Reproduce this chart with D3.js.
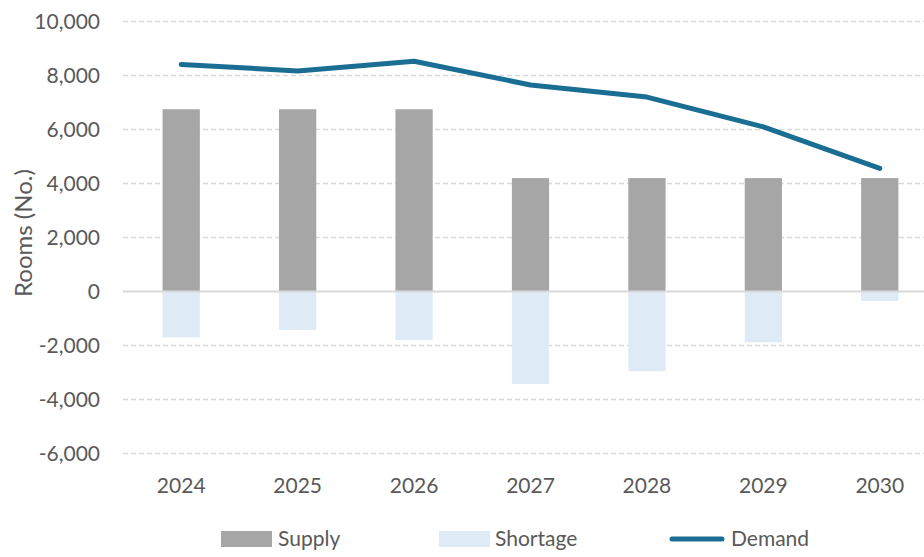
<!DOCTYPE html>
<html>
<head>
<meta charset="utf-8">
<script src="https://cdn.jsdelivr.net/npm/d3@7"></script>
<style>
  body { margin: 0; background: #fff; }
  svg { display: block; font-family: Lato, "Open Sans", sans-serif; }
</style>
</head>
<body>
<div id="chart"></div>
<script>
const years = ['2024', '2025', '2026', '2027', '2028', '2029', '2030'];
const supply = [6750, 6750, 6750, 4200, 4200, 4200, 4200];
const shortage = [-1700, -1420, -1800, -3430, -2950, -1880, -350];
const demand = [8410, 8170, 8530, 7650, 7200, 6100, 4560];
const yTicks = [-6000, -4000, -2000, 0, 2000, 4000, 6000, 8000, 10000];

const width = 924, height = 557;
const textColor = '#595959';

const svg = d3.select('#chart').append('svg')
  .attr('width', width)
  .attr('height', height);

const x = d3.scaleBand()
  .domain(years)
  .range([123, 938])
  .paddingInner(0.68)
  .paddingOuter(0.34);

const y = d3.scaleLinear().domain([-6000, 10000]).range([453.5, 21.5]);

// gridlines
svg.append('g')
  .selectAll('line')
  .data(yTicks.filter(d => d !== 0))
  .enter()
  .append('line')
  .attr('x1', 123)
  .attr('x2', width)
  .attr('y1', d => y(d))
  .attr('y2', d => y(d))
  .attr('stroke', '#d9d9d9')
  .attr('stroke-width', 1.3)
  .attr('stroke-dasharray', '5,3');

// y axis labels (hyphen minus like Excel)
const fmt = d3.format(',');
const yAxis = svg.append('g')
  .attr('transform', 'translate(100,0)')
  .call(d3.axisLeft(y).tickValues(yTicks).tickSize(0).tickPadding(0)
    .tickFormat(d => fmt(d).replace('\u2212', '-')));
yAxis.select('.domain').remove();
yAxis.selectAll('text')
  .attr('fill', textColor)
  .style('font-size', '21px')
  .style('font-family', 'Lato, sans-serif');

// bars
const bw = x.bandwidth();
svg.append('g')
  .selectAll('rect')
  .data(years)
  .enter()
  .append('rect')
  .attr('x', (d, i) => x(d))
  .attr('y', (d, i) => y(supply[i]))
  .attr('width', bw)
  .attr('height', (d, i) => y(0) - y(supply[i]))
  .attr('fill', '#a6a6a6');

svg.append('g')
  .selectAll('rect')
  .data(years)
  .enter()
  .append('rect')
  .attr('x', (d, i) => x(d))
  .attr('y', y(0))
  .attr('width', bw)
  .attr('height', (d, i) => y(shortage[i]) - y(0))
  .attr('fill', '#deeaf6');

// zero line
svg.append('line')
  .attr('x1', 123)
  .attr('x2', width)
  .attr('y1', y(0))
  .attr('y2', y(0))
  .attr('stroke', '#d9d9d9')
  .attr('stroke-width', 2);

// demand line
const line = d3.line()
  .x((d, i) => x(years[i]) + bw / 2)
  .y(d => y(d));

svg.append('path')
  .datum(demand)
  .attr('fill', 'none')
  .attr('stroke', '#1a6e93')
  .attr('stroke-width', 5)
  .attr('stroke-linecap', 'round')
  .attr('stroke-linejoin', 'round')
  .attr('d', line);

// x axis labels
const xAxis = svg.append('g')
  .attr('transform', 'translate(0,493)')
  .call(d3.axisBottom(x).tickSize(0).tickPadding(0));
xAxis.select('.domain').remove();
xAxis.selectAll('text')
  .attr('fill', textColor)
  .attr('y', 0)
  .attr('dy', 0)
  .style('font-size', '21px')
  .style('font-family', 'Lato, sans-serif');

// y axis title
svg.append('text')
  .attr('transform', 'translate(32,233) rotate(-90)')
  .attr('text-anchor', 'middle')
  .attr('fill', textColor)
  .style('font-size', '24px')
  .text('Rooms (No.)');

// legend
const legend = svg.append('g').attr('font-size', 21).attr('fill', textColor);
legend.append('rect').attr('x', 221).attr('y', 531).attr('width', 51).attr('height', 16).attr('fill', '#a6a6a6');
legend.append('text').attr('x', 278).attr('y', 546).attr('fill', textColor).text('Supply');
legend.append('rect').attr('x', 439).attr('y', 531).attr('width', 51).attr('height', 16).attr('fill', '#deeaf6');
legend.append('text').attr('x', 495).attr('y', 546).attr('fill', textColor).text('Shortage');
legend.append('line').attr('x1', 672).attr('x2', 722).attr('y1', 539).attr('y2', 539)
  .attr('stroke', '#1a6e93').attr('stroke-width', 5).attr('stroke-linecap', 'round');
legend.append('text').attr('x', 731).attr('y', 546).attr('fill', textColor).text('Demand');
</script>
</body>
</html>
